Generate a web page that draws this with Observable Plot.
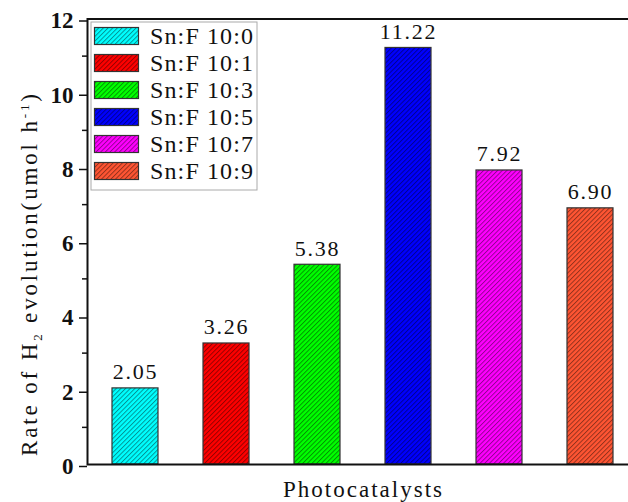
<!DOCTYPE html>
<html>
<head>
<meta charset="utf-8">
<script src="https://cdn.jsdelivr.net/npm/d3@7"></script>
<script src="https://cdn.jsdelivr.net/npm/@observablehq/plot@0.6"></script>
<style>
  html, body { margin: 0; padding: 0; background: #fff; overflow: hidden; width: 628px; height: 502px; }
  #chart { position: relative; width: 628px; height: 502px; overflow: hidden; }
  #chart svg { display: block; max-width: none !important; width: 640px !important; height: 502px !important; }
  g[aria-label="text"] text { letter-spacing: 1.8px; }
</style>
</head>
<body>
<div id="chart"></div>
<script>
// Sample names, measured H2 evolution rates and bar colours
const categories = ["Sn:F 10:0", "Sn:F 10:1", "Sn:F 10:3", "Sn:F 10:5", "Sn:F 10:7", "Sn:F 10:9"];
const rates = [2.05, 3.26, 5.38, 11.22, 7.92, 6.90];
const colors = ["#00FFFF", "#FF0000", "#00FF00", "#0000FF", "#FF00FF", "#FF5533"];
const yMajorTicks = [0, 2, 4, 6, 8, 10, 12];
const yMinorTicks = [1, 3, 5, 7, 9, 11];

const font = "'Liberation Serif', 'DejaVu Serif', serif";
const ink = "#111";

const data = categories.map((c, i) => ({
  category: c,
  rate: rates[i],
  fill: `url(#hatch-${i})`
}));

const chart = Plot.plot({
  width: 640,
  height: 502,
  marginLeft: 87,
  marginRight: 2,
  marginTop: 18.5,
  marginBottom: 38,
  style: { fontFamily: font, background: "#fff", color: ink },
  x: { domain: categories, paddingInner: 0.5, paddingOuter: 0.25, axis: null },
  y: { domain: [0, 12], axis: null },
  color: { type: "identity" },
  marks: [
    Plot.barY(data, { x: "category", y: "rate", fill: "fill", stroke: "#333", strokeWidth: 1.2 }),
    Plot.text(data, {
      x: "category", y: "rate",
      text: d => d.rate.toFixed(2),
      dy: -9, lineAnchor: "bottom",
      fontSize: 22, fill: ink
    }),
    Plot.axisY({ ticks: yMinorTicks, tickSize: 5, tickFormat: () => "", label: null, stroke: ink, strokeWidth: 1.5 }),
    Plot.axisY({
      ticks: yMajorTicks, tickSize: 8, tickPadding: 6, label: null,
      fontSize: 23, fontWeight: "bold", stroke: ink, strokeWidth: 1.5, dy: 2
    }),
    Plot.frame({ stroke: ink, strokeWidth: 2 })
  ]
});

document.getElementById("chart").appendChild(chart);

const svg = d3.select(chart);

// Diagonal hatch patterns, one per bar colour
const defs = svg.insert("defs", ":first-child");
colors.forEach((c, i) => {
  const p = defs.append("pattern")
    .attr("id", `hatch-${i}`)
    .attr("patternUnits", "userSpaceOnUse")
    .attr("width", 3.3).attr("height", 3.3)
    .attr("patternTransform", "rotate(45)");
  p.append("rect").attr("width", 3.3).attr("height", 3.3).attr("fill", c);
  p.append("line")
    .attr("x1", 0.5).attr("y1", 0).attr("x2", 0.5).attr("y2", 3.3)
    .attr("stroke", "#000").attr("stroke-opacity", 0.45).attr("stroke-width", 0.9);
});

// Axis titles
svg.append("text")
  .attr("x", 362.5).attr("y", 497)
  .attr("text-anchor", "middle")
  .attr("font-family", font).attr("font-size", 23).attr("fill", ink)
  .attr("textLength", 159).attr("lengthAdjust", "spacing")
  .text("Photocatalysts");

const yTitle = svg.append("text")
  .attr("transform", "translate(37,275) rotate(-90)")
  .attr("text-anchor", "middle")
  .attr("font-family", font).attr("font-size", 23).attr("fill", ink)
  .attr("textLength", 362).attr("lengthAdjust", "spacing");
yTitle.append("tspan").text("Rate of H");
yTitle.append("tspan").attr("font-size", 13).attr("dy", 5).text("2");
yTitle.append("tspan").attr("dy", -5).text(" evolution(umol h");
yTitle.append("tspan").attr("font-size", 13).attr("dy", -8).text("-1");
yTitle.append("tspan").attr("dy", 8).text(")");

// Legend box inside the plot area
const legend = svg.append("g")
  .attr("font-family", font).attr("font-size", 24).attr("fill", ink)
  .attr("text-anchor", "start");
legend.append("rect")
  .attr("x", 91).attr("y", 22).attr("width", 166).attr("height", 168)
  .attr("fill", "#fff").attr("stroke", "#aaa").attr("stroke-width", 1);
categories.forEach((c, i) => {
  const cy = 36 + i * 27;
  legend.append("rect")
    .attr("x", 94.5).attr("y", cy - 8.5).attr("width", 44).attr("height", 17)
    .attr("fill", `url(#hatch-${i})`).attr("stroke", "#333").attr("stroke-width", 1.2);
  legend.append("text")
    .attr("x", 150).attr("y", cy + 8)
    .attr("text-anchor", "start")
    .attr("textLength", 103).attr("lengthAdjust", "spacing")
    .text(c);
});
</script>
</body>
</html>
